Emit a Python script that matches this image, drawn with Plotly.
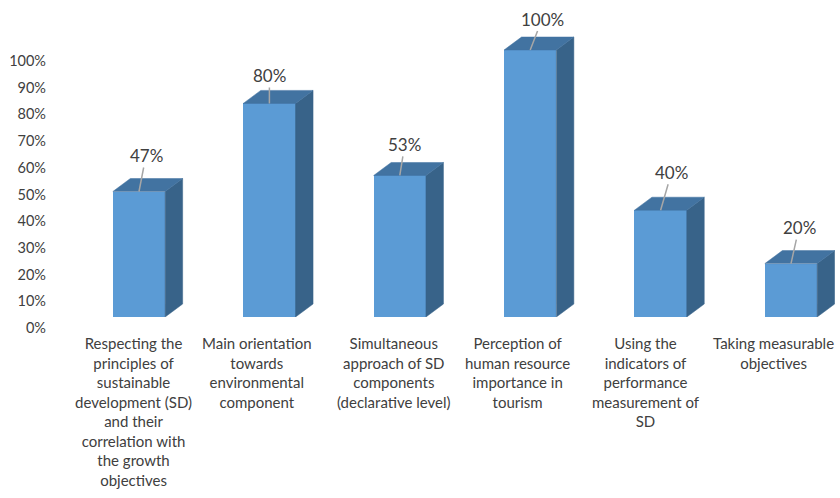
import plotly.graph_objects as go

categories = [
    "Respecting the<br>principles of<br>sustainable<br>development (SD)<br>and their<br>correlation with<br>the growth<br>objectives",
    "Main orientation<br>towards<br>environmental<br>component",
    "Simultaneous<br>approach of SD<br>components<br>(declarative level)",
    "Perception of<br>human resource<br>importance in<br>tourism",
    "Using the<br>indicators of<br>performance<br>measurement of<br>SD",
    "Taking measurable<br>objectives",
]
values = [47, 80, 53, 100, 40, 20]
y_ticks = list(range(0, 101, 10))

# label placement offsets in pixels (style)
label_ax = [7, 0, 5, 12, 11, 8]
label_ay = [-36, -28, -31, -31, -38, -36]
cat_xshift = [-6, -12, -6, -13, -15, -18]

FRONT = "#5B9BD5"
TOP = "#4273A1"
SIDE = "#386389"
TEXT = "#404040"
FONT = "Lato"

W, H = 840, 498
ml, mr, mt, mb = 52, 5, 20, 181
px_per_cat = 130.4
px_per_pct = 2.67
bar_w = 52.3 / px_per_cat
dx = 17.5 / px_per_cat
dy = 13 / px_per_pct

xmin = -(139 - ml) / px_per_cat
xmax = xmin + (W - ml - mr) / px_per_cat
ymax = (H - mt - mb) / px_per_pct

xs = list(range(len(values)))

fig = go.Figure()
fig.add_trace(go.Bar(x=xs, y=values, width=bar_w, marker=dict(color=FRONT, line=dict(width=0)),
                     hoverinfo="skip", showlegend=False))

for i, v in zip(xs, values):
    xl, xr = i - bar_w / 2, i + bar_w / 2
    # side face
    fig.add_trace(go.Scatter(
        x=[xr, xr + dx, xr + dx, xr, xr], y=[0, dy, v + dy, v, 0],
        mode="lines", fill="toself", fillcolor=SIDE, line=dict(color=SIDE, width=0.5),
        hoverinfo="skip", showlegend=False))
    # top face
    fig.add_trace(go.Scatter(
        x=[xl, xl + dx, xr + dx, xr, xl], y=[v, v + dy, v + dy, v, v],
        mode="lines", fill="toself", fillcolor=TOP, line=dict(color=TOP, width=0.5),
        hoverinfo="skip", showlegend=False))

for i, v, ax, ay in zip(xs, values, label_ax, label_ay):
    fig.add_annotation(x=i, y=v, text=f"{v}%", showarrow=True, arrowhead=0,
                       arrowwidth=1.5, arrowcolor="#A6A6A6", ax=ax, ay=ay,
                       font=dict(family=FONT, size=17, color=TEXT))

for i, cat, xsft in zip(xs, categories, cat_xshift):
    fig.add_annotation(x=i, xref="x", y=0, yref="paper", text=cat, showarrow=False,
                       xanchor="center", yanchor="top", align="center",
                       xshift=xsft, yshift=-15,
                       font=dict(family=FONT, size=15, color=TEXT))

fig.update_layout(
    width=W, height=H,
    margin=dict(l=ml, r=mr, t=mt, b=mb),
    paper_bgcolor="white", plot_bgcolor="white",
    bargap=0,
    font=dict(family=FONT, size=14.5, color=TEXT),
    xaxis=dict(range=[xmin, xmax], showticklabels=False, showgrid=False,
               zeroline=False, showline=False, ticks="", automargin=False),
    yaxis=dict(range=[0, ymax], tickvals=y_ticks, ticktext=[f"{t}%" for t in y_ticks],
               showgrid=False, zeroline=False, showline=False, ticks="",
               ticklabelshift=11, ticklabelstandoff=5, automargin=False,
               tickfont=dict(family=FONT, size=14.5, color=TEXT)),
)

fig.write_html("out.html", config={"displayModeBar": False},
               post_script="document.body.style.margin='0';")
